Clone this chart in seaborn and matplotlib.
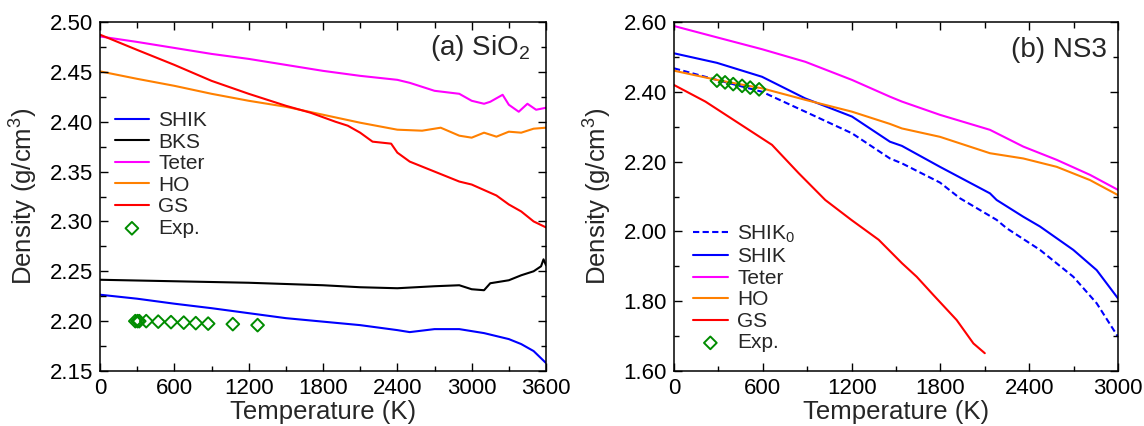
import numpy as np
import pandas as pd
import matplotlib
matplotlib.use("Agg")
import matplotlib.pyplot as plt
import seaborn as sns

# ---------------- DATA: (a) SiO2 ----------------
sio2_teter_T = [0, 300, 600, 900, 1200, 1500, 1800, 2100, 2400, 2500, 2700, 2900, 3000, 3100, 3150, 3250, 3300, 3380, 3450, 3520, 3600]
sio2_teter_rho = [2.4855, 2.480, 2.474, 2.468, 2.463, 2.457, 2.451, 2.446, 2.442, 2.439, 2.431, 2.428, 2.421, 2.418, 2.420, 2.427, 2.417, 2.410, 2.418, 2.412, 2.414]

sio2_ho_T = [0, 300, 600, 900, 1200, 1500, 1800, 2100, 2400, 2600, 2750, 2900, 3000, 3100, 3200, 3300, 3400, 3500, 3600]
sio2_ho_rho = [2.4505, 2.443, 2.436, 2.428, 2.421, 2.415, 2.407, 2.399, 2.392, 2.391, 2.394, 2.386, 2.384, 2.389, 2.385, 2.390, 2.389, 2.393, 2.394]

sio2_gs_T = [0, 300, 600, 900, 1200, 1500, 1700, 1900, 2000, 2100, 2200, 2350, 2400, 2500, 2700, 2900, 3000, 3200, 3300, 3400, 3500, 3600]
sio2_gs_rho = [2.4873, 2.472, 2.457, 2.441, 2.428, 2.416, 2.409, 2.400, 2.396, 2.389, 2.380, 2.378, 2.369, 2.360, 2.350, 2.340, 2.337, 2.326, 2.317, 2.310, 2.300, 2.294]

sio2_bks_T = [0, 600, 1200, 1800, 2100, 2400, 2700, 2900, 3000, 3100, 3150, 3300, 3400, 3500, 3560, 3580, 3600]
sio2_bks_rho = [2.2415, 2.240, 2.2385, 2.236, 2.234, 2.233, 2.235, 2.236, 2.232, 2.231, 2.238, 2.241, 2.246, 2.250, 2.255, 2.262, 2.256]

sio2_shik_T = [0, 300, 600, 900, 1200, 1500, 1800, 2100, 2400, 2500, 2700, 2900, 3100, 3300, 3400, 3500, 3600]
sio2_shik_rho = [2.2265, 2.2225, 2.2175, 2.213, 2.208, 2.203, 2.1995, 2.196, 2.191, 2.189, 2.192, 2.192, 2.188, 2.182, 2.177, 2.170, 2.158]

sio2_exp_T = [285, 303, 317, 373, 470, 573, 676, 773, 873, 1072, 1272]
sio2_exp_rho = [2.2, 2.2, 2.2, 2.2, 2.1995, 2.199, 2.1985, 2.198, 2.1975, 2.197, 2.196]

# ---------------- DATA: (b) NS3 ----------------
ns3_teter_T = [0, 290, 595, 887, 1203, 1459, 1540, 1797, 2135, 2360, 2586, 2811, 3000]
ns3_teter_rho = [2.5885, 2.556, 2.522, 2.486, 2.434, 2.386, 2.372, 2.334, 2.291, 2.243, 2.205, 2.162, 2.119]

ns3_ho_T = [0, 290, 595, 887, 1203, 1459, 1540, 1797, 2135, 2360, 2586, 2811, 3000]
ns3_ho_rho = [2.4605, 2.434, 2.410, 2.377, 2.343, 2.308, 2.295, 2.271, 2.224, 2.209, 2.185, 2.147, 2.104]

ns3_shik_T = [0, 290, 595, 887, 1203, 1459, 1540, 1797, 2135, 2180, 2360, 2473, 2698, 2856, 3000]
ns3_shik_rho = [2.5103, 2.483, 2.443, 2.381, 2.329, 2.257, 2.245, 2.185, 2.109, 2.090, 2.042, 2.014, 1.947, 1.889, 1.808]

ns3_shik0_T = [0, 290, 595, 887, 1203, 1459, 1540, 1797, 1932, 2180, 2248, 2473, 2698, 2856, 3000]
ns3_shik0_rho = [2.4673, 2.434, 2.400, 2.343, 2.281, 2.209, 2.195, 2.140, 2.095, 2.033, 2.009, 1.947, 1.870, 1.794, 1.698]

ns3_gs_T = [0, 212, 437, 662, 842, 1022, 1198, 1383, 1540, 1640, 1752, 1910, 2023, 2100]
ns3_gs_rho = [2.4195, 2.372, 2.310, 2.248, 2.167, 2.090, 2.033, 1.976, 1.909, 1.870, 1.818, 1.746, 1.679, 1.651]

ns3_exp_T = [290, 345, 400, 460, 515, 575]
ns3_exp_rho = [2.432, 2.427, 2.422, 2.417, 2.412, 2.407]

# ---------------- TICKS ----------------
sio2_xticks = [0, 600, 1200, 1800, 2400, 3000, 3600]
sio2_xminor = [300, 900, 1500, 2100, 2700, 3300]
sio2_yticks = [2.15, 2.20, 2.25, 2.30, 2.35, 2.40, 2.45, 2.50]
sio2_yminor = [2.175, 2.225, 2.275, 2.325, 2.375, 2.425, 2.475]

ns3_xticks = [0, 600, 1200, 1800, 2400, 3000]
ns3_xminor = [300, 900, 1500, 2100, 2700]
ns3_yticks = [1.60, 1.80, 2.00, 2.20, 2.40, 2.60]
ns3_yminor = [1.70, 1.90, 2.10, 2.30, 2.50]

# ---------------- STYLE ----------------
BLUE = "#0000ff"
MAGENTA = "#ff00ff"
ORANGE = "#ff8000"
RED = "#ff0000"
GREEN = "#008c00"

sns.set_style("ticks")
plt.rcParams.update({
    "font.family": ["Liberation Sans", "DejaVu Sans"],
    "mathtext.fontset": "custom",
    "mathtext.rm": "Liberation Sans",
    "mathtext.it": "Liberation Sans",
    "axes.linewidth": 1.1,
    "axes.edgecolor": "black",
    "xtick.direction": "in",
    "ytick.direction": "in",
    "xtick.major.size": 0,
    "ytick.major.size": 0,
    "xtick.minor.size": 0,
    "ytick.minor.size": 0,
    "xtick.color": "black",
    "ytick.color": "black",
    "xtick.labelsize": 16,
    "ytick.labelsize": 16,
    "xtick.major.pad": 5,
    "ytick.major.pad": 5,
})

fig = plt.figure(figsize=(11.44, 4.26), dpi=100)
AX_W, AX_H = 446, 349
ax1 = fig.add_axes([100 / 1144, 55 / 426, 446 / 1144, 349 / 426])
ax2 = fig.add_axes([674 / 1144, 55 / 426, 444 / 1144, 349 / 426])

LW = 1.5


def line(ax, T, rho, color, label, ls="-"):
    sns.lineplot(x=T, y=rho, ax=ax, color=color, lw=LW, label=label, linestyle=ls)


def exp_points(ax, T, rho):
    sns.scatterplot(x=T, y=rho, ax=ax, marker="D", s=42, facecolor="none",
                    edgecolor=GREEN, linewidth=1.4, label="Exp.", zorder=5)


def draw_ticks(ax, xt, xm, yt, ym):
    # inward tick marks on all four sides, drawn as short line segments
    xa = ax.get_xaxis_transform()
    ya = ax.get_yaxis_transform()
    kw = dict(color="black", lw=1.0, clip_on=False, zorder=6, solid_capstyle="butt")
    for pos, px in ((xt, 8), (xm, 5.5)):
        h = px / AX_H
        for p in pos:
            ax.plot([p, p], [0, h], transform=xa, **kw)
            ax.plot([p, p], [1 - h, 1], transform=xa, **kw)
    for pos, px in ((yt, 8), (ym, 5.5)):
        w = px / AX_W
        for p in pos:
            ax.plot([0, w], [p, p], transform=ya, **kw)
            ax.plot([1 - w, 1], [p, p], transform=ya, **kw)


def style_axes(ax, xlim, ylim, xt, xm, yt, ym):
    draw_ticks(ax, xt, xm, yt, ym)
    ax.set_xticks(xt)
    ax.set_yticks(yt)
    ax.set_yticklabels([f"{v:.2f}" for v in yt])
    ax.set_xlim(*xlim)
    ax.set_ylim(*ylim)
    for s in ax.spines.values():
        s.set_visible(True)
    ax.set_xlabel("Temperature (K)", fontsize=18.5)
    ax.set_ylabel("Density (g/cm$^3$)", fontsize=18.5)
    ax.xaxis.set_label_coords(0.5, -0.084)


# ---------------- (a) SiO2 ----------------
line(ax1, sio2_shik_T, sio2_shik_rho, BLUE, "SHIK")
line(ax1, sio2_bks_T, sio2_bks_rho, "black", "BKS")
line(ax1, sio2_teter_T, sio2_teter_rho, MAGENTA, "Teter")
line(ax1, sio2_ho_T, sio2_ho_rho, ORANGE, "HO")
line(ax1, sio2_gs_T, sio2_gs_rho, RED, "GS")
exp_points(ax1, sio2_exp_T, sio2_exp_rho)
style_axes(ax1, (0, 3600), (2.15, 2.50), sio2_xticks, sio2_xminor, sio2_yticks, sio2_yminor)
ax1.yaxis.set_label_coords(-0.134, 0.5)
ax1.text(0.964, 0.905, "(a) SiO$_2$", transform=ax1.transAxes, ha="right",
         va="baseline", fontsize=20)
ax1.legend(loc="center left", bbox_to_anchor=(0.033, 0.563), frameon=False,
           fontsize=15, handlelength=1.65, handletextpad=0.45, labelspacing=0.12,
           borderpad=0, borderaxespad=0)

# ---------------- (b) NS3 ----------------
line(ax2, ns3_shik0_T, ns3_shik0_rho, BLUE, "SHIK$_0$", ls=(0, (3, 1.6)))
line(ax2, ns3_shik_T, ns3_shik_rho, BLUE, "SHIK")
line(ax2, ns3_teter_T, ns3_teter_rho, MAGENTA, "Teter")
line(ax2, ns3_ho_T, ns3_ho_rho, ORANGE, "HO")
line(ax2, ns3_gs_T, ns3_gs_rho, RED, "GS")
exp_points(ax2, ns3_exp_T, ns3_exp_rho)
style_axes(ax2, (0, 3000), (1.60, 2.60), ns3_xticks, ns3_xminor, ns3_yticks, ns3_yminor)
ax2.yaxis.set_label_coords(-0.135, 0.5)
ax2.text(0.975, 0.9, "(b) NS3", transform=ax2.transAxes, ha="right",
         va="baseline", fontsize=20)
ax2.legend(loc="center left", bbox_to_anchor=(0.042, 0.238), frameon=False,
           fontsize=15, handlelength=1.7, handletextpad=0.45, labelspacing=0.12,
           borderpad=0, borderaxespad=0)

fig.savefig("out.png", dpi=100)
